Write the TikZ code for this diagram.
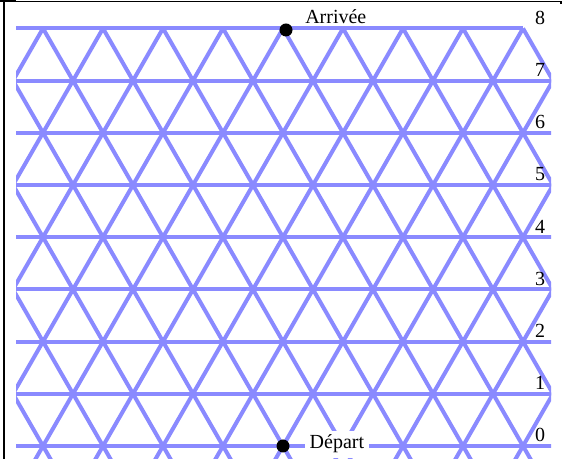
\documentclass[tikz,border=0pt]{standalone}
\usepackage{fontspec}
\setmainfont{Liberation Serif}
\definecolor{gridblue}{RGB}{138,138,255}

\begin{document}
\begin{tikzpicture}[x=0.75pt,y=-0.75pt,font=\fontsize{15}{18}\selectfont,
  gridline/.style={draw=gridblue,line width=3pt},
  dot/.style={circle,fill=black,inner sep=0pt,minimum size=9.75pt},
  rowlabel/.style={anchor=base,inner sep=0pt}]
\useasboundingbox (0,0) rectangle (565,459);
% frame
\draw[line width=0.9pt] (0,1.5) -- (561,1.5) -- (561,4);
\draw[line width=1.5pt] (0,1.2) -- (16,1.2);
\draw[line width=1.9pt] (4,0) -- (4,459);
% lattice
\begin{scope}
\clip (16,26.4) rectangle (551,459);
\foreach \k in {0,...,7}
  \draw[gridline] (0,446-52.2*\k) -- (565,446-52.2*\k);
\draw[gridline] (0,28.4) -- (523,28.4);
\foreach \j in {-5,...,14} {
  \draw[gridline] (13+60*\j,498.2) -- ++(270,-469.8);
  \draw[gridline] (13+60*\j,498.2) -- ++(-270,-469.8);
}
\end{scope}
% row numbers
\foreach \k in {0,...,8}
  \node[rowlabel] (row\k) at (540,442-52.2*\k) {\k};
% start and end
\node[anchor=base west,fill=white] (departtxt) at (305,449) {Départ};
\node[anchor=base west,inner sep=0pt] (arriveetxt) at (305,24) {Arrivée};
\node[dot] (depart) at (283,446) {};
\node[dot] (arrivee) at (286,30) {};
\end{tikzpicture}
\end{document}
